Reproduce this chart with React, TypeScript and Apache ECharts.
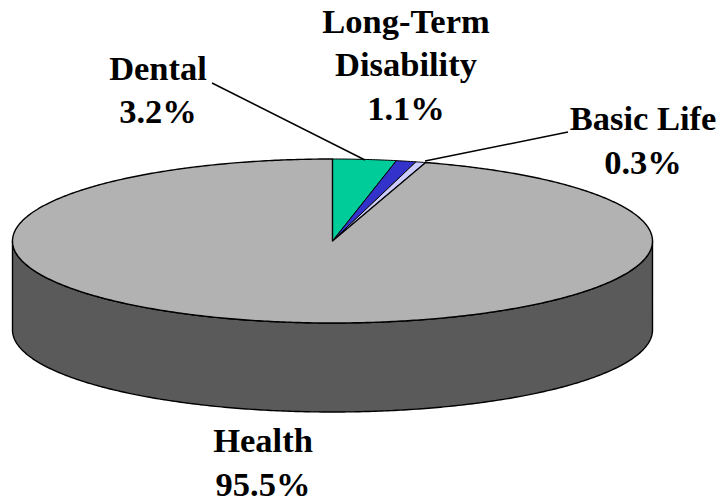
import React, { useEffect, useRef } from "react";
import * as echarts from "echarts";

const sliceNames = ["Dental", "Long-Term\nDisability", "Basic Life", "Health"];
const labelValues = [3.2, 1.1, 0.3, 95.5];
// Wedge sizes as measured on the drawn pie; the thin wedge is drawn wider than its label.
const drawnShares = [3.2, 1.0, 0.5, 95.3];
const topColors = ["#00cc99", "#3333cc", "#ccccff", "#b2b2b2"];
const sideColors = ["#007a5c", "#1f1f7a", "#7a7a99", "#5a5a5a"];
const labelCenters = [[158, 89.5], [406, 64], [643, 140], [263, 462]];
const leaderLines = [[[212, 83], [365, 160]], [[568, 132], [425, 161]]];

const CX = 332.5, CY = 241, RX = 320, RY = 82, DEPTH = 89;
const total = drawnShares.reduce((a, b) => a + b, 0);
const pt = (a: number, dy = 0): [number, number] => [
  CX + RX * Math.sin(a),
  CY - RY * Math.cos(a) + dy,
];

function arcPoints(a0: number, a1: number, dy = 0) {
  const out: [number, number][] = [];
  const steps = Math.max(2, Math.ceil(Math.abs(a1 - a0) / 0.01));
  for (let i = 0; i <= steps; i++) out.push(pt(a0 + ((a1 - a0) * i) / steps, dy));
  return out;
}

export default function App() {
  const ref = useRef<HTMLDivElement>(null);
  useEffect(() => {
    document.body.style.margin = "0";
    const chart = echarts.init(ref.current!, undefined, { renderer: "svg" });
    const stroke = { stroke: "#000", lineWidth: 1.4, lineJoin: "round" as const };
    let acc = 0;
    const ranges = drawnShares.map((v) => {
      const a0 = (acc / total) * Math.PI * 2;
      acc += v;
      return [a0, (acc / total) * Math.PI * 2];
    });
    chart.setOption({
      animation: false,
      backgroundColor: "#fff",
      series: [
        {
          type: "custom",
          coordinateSystem: "none",
          silent: true,
          data: drawnShares.map((v, i) => ({ name: sliceNames[i], value: [v, i] })),
          renderItem: (_p: any, api: any) => {
            const i = api.value(1) as number;
            const [a0, a1] = ranges[i];
            const children: any[] = [];
            const s0 = Math.max(a0, Math.PI / 2);
            const s1 = Math.min(a1, (Math.PI * 3) / 2);
            if (s1 > s0) {
              children.push({
                type: "polygon",
                shape: { points: [...arcPoints(s0, s1), ...arcPoints(s1, s0, DEPTH)] },
                style: { fill: sideColors[i], ...stroke },
              });
            }
            children.push({
              type: "polygon",
              shape: { points: [[CX, CY], ...arcPoints(a0, a1)] },
              style: { fill: topColors[i], ...stroke, lineWidth: i === 3 ? 1.4 : 1 },
            });
            return { type: "group", children };
          },
        },
      ],
      graphic: [
        ...leaderLines.map((l) => ({
          type: "line",
          z: 10,
          shape: { x1: l[0][0], y1: l[0][1], x2: l[1][0], y2: l[1][1] },
          style: { stroke: "#000", lineWidth: 1.4 },
        })),
        ...sliceNames.map((n, i) => ({
          type: "text",
          z: 10,
          x: labelCenters[i][0],
          y: labelCenters[i][1],
          style: {
            text: `${n}\n${labelValues[i].toFixed(1)}%`,
            fill: "#000",
            font: 'bold 34.5px "Liberation Serif"',
            lineHeight: 43.5,
            align: "center",
            verticalAlign: "middle",
          },
        })),
      ],
    });
    return () => chart.dispose();
  }, []);
  return <div ref={ref} style={{ width: 718, height: 502 }} />;
}
